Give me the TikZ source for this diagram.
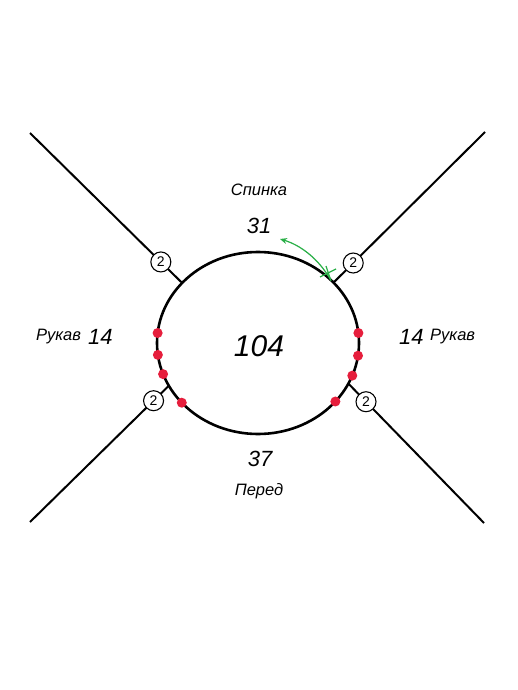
\documentclass[tikz,border=0pt]{standalone}
\usepackage{fontspec}
\setmainfont{Liberation Sans}
\usetikzlibrary{arrows.meta}
\definecolor{dotred}{RGB}{230,30,60}
\definecolor{arrgreen}{RGB}{40,175,70}
\tikzset{
  seam/.style={line width=2pt,black},
  body/.style={line width=2.6pt,black},
  num/.style={circle,draw,line width=1.1pt,fill=white,minimum size=20pt,inner sep=0pt,font=\fontsize{14}{14}\selectfont},
  lbl/.style={font=\itshape\fontsize{16.5}{17}\selectfont,inner sep=0pt},
  val/.style={font=\itshape\fontsize{22}{22}\selectfont,inner sep=0pt},
  reddot/.style={circle,fill=dotred,inner sep=0pt,minimum size=10pt},
}
\begin{document}
\begin{tikzpicture}[x=1pt,y=-1pt]
\useasboundingbox[fill=white] (0,0) rectangle (518,690);
\coordinate (E) at (258,343);
% ellipse attachment points
\path (E) ++(138.7:101pt and 91pt) coordinate (pTL);
\path (E) ++(41.6:101pt and 91pt) coordinate (pTR);
\path (E) ++(208:101pt and 91pt) coordinate (pBL);
\path (E) ++(-26.5:101pt and 91pt) coordinate (pBR);
\coordinate (eTL) at (30,133);
\coordinate (eTR) at (485,132);
\coordinate (eBL) at (30,522);
\coordinate (eBR) at (484,523);
\draw[seam] (eTL) -- (pTL) node[num,pos=0.86] (nTL) {2};
\draw[seam] (eTR) -- (pTR) node[num,pos=0.87] (nTR) {2};
\draw[seam] (eBL) -- (pBL) node[num,pos=0.89] (nBL) {2};
\draw[seam] (eBR) -- (pBR) node[num,pos=0.87] (nBR) {2};
\draw[body] (E) ellipse [x radius=101pt, y radius=91pt];
% red dots
\foreach \a [count=\i] in {173.7,187.5,200,221,6.3,-8,-21,-40}{
  \path (E) ++(\a:101pt and 91pt) node[reddot] (d\i) {};
}
% green arrow
\path (E) ++(44:101pt and 91pt) coordinate (gS);
\coordinate (gE) at (280,239);
\draw[arrgreen,line width=1.2pt,-{Stealth[length=7pt,width=6pt]}] (gS) .. controls (318,258) and (300,245) .. (gE);
\coordinate (c1) at (320,277);
\coordinate (c2) at (336,269);
\coordinate (c3) at (326,266);
\coordinate (c4) at (331,281);
\draw[arrgreen,line width=1.2pt] (c1) -- (c2) (c3) -- (c4);
% labels
\node[lbl] (sp) at (259,190) {Спинка};
\node[val] (v31) at (259,226) {31};
\node[font=\itshape\fontsize{30}{30}\selectfont,inner sep=0pt] (v104) at (259,346) {104};
\node[val] (v37) at (260,459) {37};
\node[lbl] (pe) at (259,491) {Перед};
\node[lbl,anchor=west] (rl) at (36,337) {Рукав};
\node[val,anchor=west] (v14l) at (88,337) {14};
\node[val,anchor=west] (v14r) at (399,337) {14};
\node[lbl,anchor=west] (rr) at (430,337) {Рукав};
\end{tikzpicture}
\end{document}
